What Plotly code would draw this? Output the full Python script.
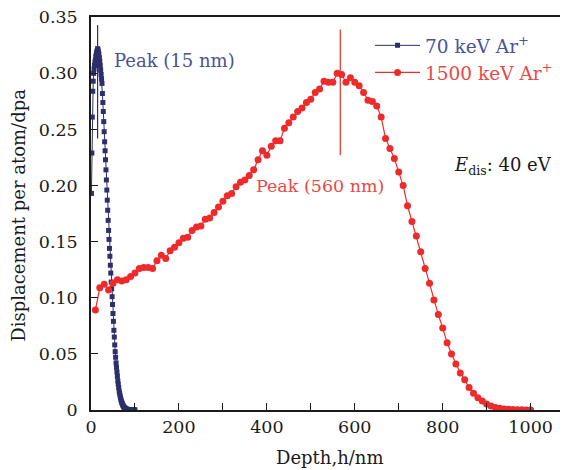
import plotly.graph_objects as go

# 70 keV Ar+ (1 nm spacing)
blue_x = list(range(1, 101))
blue_y = [0.193, 0.229, 0.261, 0.284, 0.293, 0.300, 0.304, 0.307, 0.310, 0.312,
          0.315, 0.317, 0.319, 0.320, 0.322, 0.321, 0.319, 0.317, 0.314, 0.311,
          0.307, 0.303, 0.299, 0.295, 0.291, 0.282, 0.274, 0.266, 0.257, 0.248,
          0.239, 0.231, 0.223, 0.214, 0.205, 0.196, 0.187, 0.178, 0.169, 0.160,
          0.152, 0.144, 0.137, 0.129, 0.122, 0.114, 0.108, 0.101, 0.094, 0.086,
          0.079, 0.071, 0.065, 0.058, 0.052, 0.047, 0.042, 0.038, 0.034, 0.030,
          0.026, 0.023, 0.020, 0.017, 0.015, 0.013, 0.011, 0.0095, 0.008, 0.0068,
          0.0057, 0.0047, 0.0039, 0.0032, 0.0026, 0.0021, 0.0017, 0.0014, 0.0011, 0.0009,
          0.0007, 0.0006, 0.0005, 0.0004, 0.0003, 0.00025, 0.0002, 0.00015, 0.0001, 0.0001,
          0.00008, 0.00006, 0.00005, 0.00004, 0.00003, 0.00002, 0.00002, 0.00001, 0.00001, 0.0]

# 1500 keV Ar+ (10 nm spacing)
red_x = list(range(10, 1001, 10))
red_y = [0.089, 0.109, 0.112, 0.107, 0.113, 0.116, 0.115, 0.116, 0.119, 0.122,
         0.126, 0.127, 0.127, 0.126, 0.133, 0.138, 0.135, 0.142, 0.145, 0.149,
         0.153, 0.154, 0.160, 0.163, 0.164, 0.170, 0.171, 0.176, 0.181, 0.186,
         0.191, 0.193, 0.199, 0.203, 0.205, 0.209, 0.214, 0.223, 0.231, 0.227,
         0.235, 0.240, 0.240, 0.251, 0.256, 0.261, 0.266, 0.269, 0.274, 0.277,
         0.283, 0.286, 0.293, 0.292, 0.292, 0.300, 0.299, 0.292, 0.296, 0.292,
         0.289, 0.283, 0.276, 0.275, 0.271, 0.261, 0.242, 0.233, 0.224, 0.212,
         0.200, 0.182, 0.168, 0.155, 0.141, 0.126, 0.113, 0.098, 0.085, 0.073,
         0.060, 0.050, 0.041, 0.033, 0.027, 0.020, 0.015, 0.011, 0.008, 0.0053,
         0.0035, 0.0023, 0.0015, 0.0010, 0.0007, 0.0005, 0.0003, 0.0002, 0.0001, 0.0001]

x_tickvals = [0, 100, 200, 300, 400, 500, 600, 700, 800, 900, 1000]
x_ticktext = ["0", "", "200", "", "400", "", "600", "", "800", "", "1000"]
y_tickvals = [0, 0.05, 0.10, 0.15, 0.20, 0.25, 0.30, 0.35]
y_ticktext = ["0", "0.05", "0.10", "0.15", "0.20", "0.25", "0.30", "0.35"]

BLUE = "#2c2f6c"
BLUE_TXT = "#4a5299"
RED = "#ee2b2b"
RED_TXT = "#e84848"
FONT = "DejaVu Serif"
INK = "#1a1a1a"

fig = go.Figure()
fig.add_trace(go.Scatter(
    x=blue_x, y=blue_y, mode="lines+markers",
    name=f'<span style="color:{BLUE_TXT}">70 keV Ar<sup>+</sup></span>',
    line=dict(color=BLUE, width=1),
    marker=dict(symbol="square", size=5, color=BLUE),
))
fig.add_trace(go.Scatter(
    x=red_x, y=red_y, mode="lines+markers",
    name=f'<span style="color:{RED_TXT}">1500 keV Ar<sup>+</sup></span>',
    line=dict(color=RED, width=1.2),
    marker=dict(symbol="circle", size=7, color=RED),
))

# peak marker lines
fig.add_shape(type="line", x0=15, x1=15, y0=0.242, y1=0.343, xref="x", yref="y",
              line=dict(color=BLUE, width=1.2))
fig.add_shape(type="line", x0=567, x1=567, y0=0.227, y1=0.339, xref="x", yref="y",
              line=dict(color=RED, width=1.2))

fig.add_annotation(x=48, y=0.311, text="Peak (15 nm)", showarrow=False, xanchor="left",
                   font=dict(family=FONT, size=18, color=BLUE_TXT))
fig.add_annotation(x=520, y=0.200, text="Peak (560 nm)", showarrow=False, xanchor="center",
                   font=dict(family=FONT, size=17.5, color=RED_TXT))
fig.add_annotation(x=821, y=0.217, text="<i>E</i><sub>dis</sub>: 40 eV", showarrow=False,
                   xanchor="left", font=dict(family=FONT, size=18, color=INK))

# axis titles
fig.add_annotation(x=-0.18, y=0.496, xref="paper", yref="paper", text="Displacement per atom/dpa",
                   textangle=-90, showarrow=False, font=dict(family=FONT, size=18, color=INK))
fig.add_annotation(x=0.5, y=-0.153, xref="paper", yref="paper", text="Depth,h/nm",
                   showarrow=False, font=dict(family=FONT, size=18, color=INK))

# page body has an 8px default margin, so the figure is 8px smaller
fig.update_layout(
    width=560, height=462,
    margin=dict(l=83, r=0, t=9, b=60, autoexpand=False),
    paper_bgcolor="white", plot_bgcolor="white",
    font=dict(family=FONT, size=17, color=INK),
    showlegend=True,
    legend=dict(x=0.585, y=0.975, xanchor="left", yanchor="top",
                bgcolor="rgba(0,0,0,0)", font=dict(family=FONT, size=18.5),
                itemwidth=45, tracegroupgap=2),
    xaxis=dict(range=[0, 1085], tickvals=x_tickvals, ticktext=x_ticktext, automargin=False,
               ticks="inside", ticklen=7, tickcolor=INK, showgrid=False, zeroline=False,
               showline=True, linecolor=INK, linewidth=1.5, mirror=True,
               ticklabeloverflow="allow",
               tickfont=dict(family=FONT, size=17.5, color=INK)),
    yaxis=dict(range=[0, 0.3502], tickvals=y_tickvals, ticktext=y_ticktext, automargin=False,
               ticks="inside", ticklen=7, tickcolor=INK, showgrid=False, zeroline=False,
               showline=True, linecolor=INK, linewidth=1.5, ticklabelstandoff=8,
               ticklabeloverflow="allow",
               tickfont=dict(family=FONT, size=17.5, color=INK)),
)

fig.write_html("out.html")
